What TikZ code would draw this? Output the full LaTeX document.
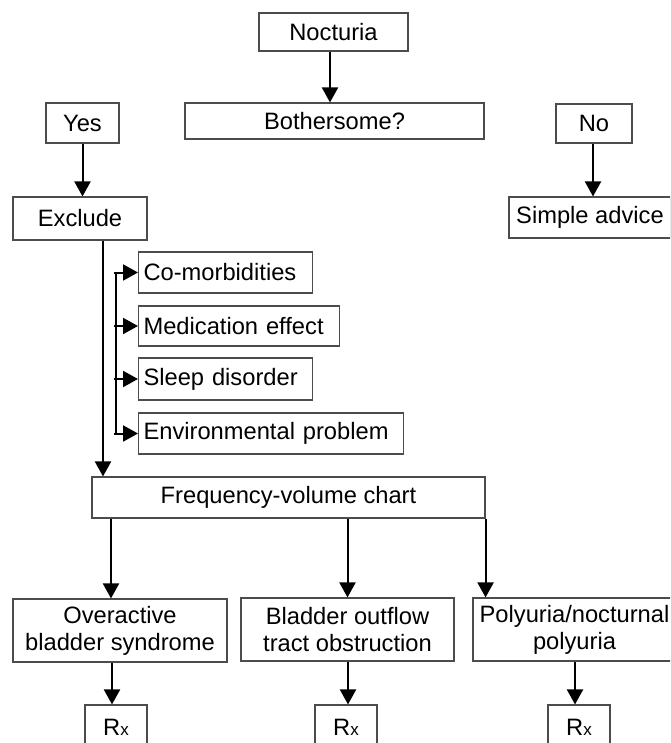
\documentclass[tikz,border=0pt]{standalone}
\usepackage{fontspec}
\setmainfont{Liberation Sans}
\usetikzlibrary{arrows.meta}
\begin{document}
\begin{tikzpicture}[x=1pt,y=-1pt,
  box/.style={draw=black!70, line width=1.1pt, inner sep=0pt, align=center,
    font=\fontsize{23.7}{27}\selectfont},
  sidebox/.style={box, anchor=west, align=left, inner xsep=5pt},
  arr/.style={line width=2pt, -{Triangle[length=15pt,width=16pt]}},
  ln/.style={line width=2pt}]
\useasboundingbox (0,0) rectangle (670,743);
\clip (0,0) rectangle (670,743);
\node[box, minimum width=149, minimum height=38] (noc) at (333.5,32) {Nocturia};
\node[box, minimum width=299, minimum height=36] (both) at (334.5,121) {Bothersome?};
\node[box, minimum width=73, minimum height=40] (yes) at (82.5,123) {Yes};
\node[box, minimum width=76, minimum height=39] (no) at (594,123.5) {No};
\node[box, minimum width=134, minimum height=43] (excl) at (80,218.5) {Exclude};
\node[box, minimum width=162, minimum height=41] (simp) at (590,217.5) {Simple advice};
\node[sidebox, text width=164, minimum height=41] (com) at (138,272.5) {Co-morbidities};
\node[sidebox, text width=191, minimum height=40] (med) at (138,326) {Medication effect};
\node[sidebox, text width=164, minimum height=42] (sleep) at (138,379) {Sleep disorder};
\node[sidebox, text width=255, minimum height=41] (env) at (138,433.5) {Environmental problem};
\node[box, minimum width=393, minimum height=41] (freq) at (288.5,497.5) {Frequency-volume chart};
\node[box, minimum width=214, minimum height=63] (oab) at (120,630.5) {Overactive\\bladder syndrome};
\node[box, minimum width=213, minimum height=63] (boo) at (347.5,629.5) {Bladder outflow\\tract obstruction};
\node[box, minimum width=203, minimum height=63] (poly) at (574.5,629.5) {Polyuria/nocturnal\\polyuria};
\node[box, minimum width=62, minimum height=45] (rxa) at (116,727.5) {R{\fontsize{17}{17}\selectfont x}};
\node[box, minimum width=62, minimum height=45] (rxb) at (346,727.5) {R{\fontsize{17}{17}\selectfont x}};
\node[box, minimum width=62, minimum height=45] (rxc) at (579,727.5) {R{\fontsize{17}{17}\selectfont x}};
% top
\draw[arr] ([xshift=-3.5]noc.south) -- ([xshift=-3.5]noc.south |- both.north);
\draw[arr] (yes.south) -- (yes.south |- excl.north);
\draw[arr] ([xshift=-1]no.south) -- ([xshift=-1]no.south |- simp.north);
% exclude
\draw[arr] ([xshift=23]excl.south) -- ([xshift=23]excl.south |- freq.north);
\draw[ln] ([xshift=-22]com.west) -- ([xshift=-22]env.west);
\foreach \b in {com,med,sleep,env}
  \draw[arr] ([xshift=-24]\b.west) -- (\b.west);
% frequency chart
\draw[arr] ([xshift=-9]oab.north |- freq.south) -- ([xshift=-9]oab.north);
\draw[arr] (boo.north |- freq.south) -- (boo.north);
\draw[arr] (freq.south east) -- (freq.south east |- poly.north);
% treatments
\draw[arr] ([xshift=-4]rxa.north |- oab.south) -- ([xshift=-4]rxa.north);
\draw[arr] ([xshift=2]rxb.north |- boo.south) -- ([xshift=2]rxb.north);
\draw[arr] ([xshift=-4]rxc.north |- poly.south) -- ([xshift=-4]rxc.north);
\end{tikzpicture}
\end{document}
